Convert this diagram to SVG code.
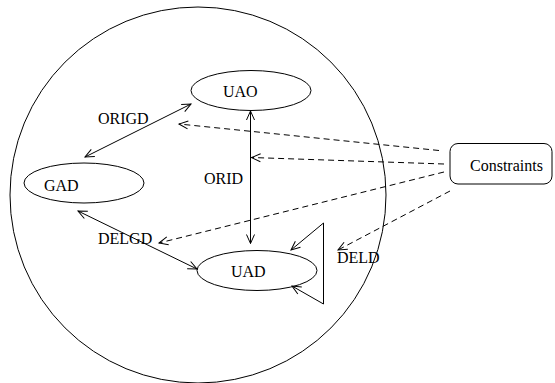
<svg xmlns="http://www.w3.org/2000/svg" width="555" height="383" viewBox="0 0 555 383">
  <style>
    .shape { fill: none; stroke: #000; stroke-width: 1; }
    .node { fill: #fff; stroke: #000; stroke-width: 1; }
    .edge { fill: none; stroke: #000; stroke-width: 1; }
    .dash { stroke-dasharray: 6 4; }
    text { font-family: "Liberation Serif", "Times New Roman", serif; font-size: 16px; fill: #000; }
  </style>
  <defs>
    <marker id="open" markerUnits="userSpaceOnUse" markerWidth="12" markerHeight="10" refX="9" refY="4" orient="auto-start-reverse" overflow="visible">
      <path d="M0,0 L9,4 L0,8" fill="none" stroke="#000" stroke-width="1"/>
    </marker>
  </defs>
  <rect width="555" height="383" fill="#fff"/>

  <!-- enclosing domain -->
  <g id="domain">
    <circle class="shape" cx="198" cy="195" r="188"/>
  </g>

  <g id="UAO">
    <ellipse class="node" cx="251" cy="90.5" rx="60" ry="20"/>
    <text x="223" y="97">UAO</text>
  </g>
  <g id="GAD">
    <ellipse class="node" cx="84" cy="183" rx="60" ry="20"/>
    <text x="44" y="191">GAD</text>
  </g>
  <g id="UAD">
    <ellipse class="node" cx="257" cy="270.5" rx="60" ry="20"/>
    <text x="231" y="277">UAD</text>
  </g>
  <g id="Constraints">
    <rect class="node" x="450" y="143.5" width="102" height="40.5" rx="8" ry="8"/>
    <text x="470" y="171">Constraints</text>
  </g>

  <g id="connectors">
    <!-- ORIGD: GAD <-> UAO -->
    <line class="edge" x1="85" y1="157" x2="191" y2="104" marker-start="url(#open)" marker-end="url(#open)"/>
    <!-- ORID: UAO <-> UAD -->
    <line class="edge" x1="250.5" y1="111" x2="250.5" y2="243.5" marker-start="url(#open)" marker-end="url(#open)"/>
    <!-- DELGD: GAD <-> UAD -->
    <line class="edge" x1="78" y1="211" x2="197" y2="269" marker-start="url(#open)" marker-end="url(#open)"/>
    <!-- DELD: self loop on UAD -->
    <path class="edge" d="M323.5,223 L291,250" marker-end="url(#open)"/>
    <path class="edge" d="M323.5,223 L323.5,304 L292,286" marker-end="url(#open)"/>
    <!-- constraint links -->
    <line class="edge dash" x1="439" y1="150.5" x2="179" y2="124" marker-end="url(#open)"/>
    <line class="edge dash" x1="444" y1="164" x2="251.5" y2="157.5" marker-end="url(#open)"/>
    <line class="edge dash" x1="444" y1="172" x2="159" y2="243" marker-end="url(#open)"/>
    <line class="edge dash" x1="450" y1="191" x2="338" y2="250" marker-end="url(#open)"/>
  </g>

  <g id="labels">
    <text x="98" y="124">ORIGD</text>
    <text x="204" y="184">ORID</text>
    <text x="98" y="244">DELGD</text>
    <text x="337" y="263">DELD</text>
  </g>
</svg>
